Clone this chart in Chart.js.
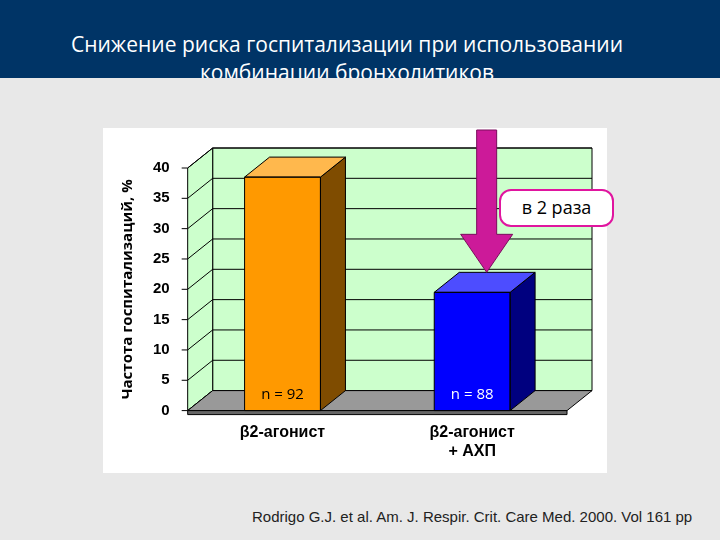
<!DOCTYPE html>
<html><head><meta charset="utf-8">
<script src="https://cdn.jsdelivr.net/npm/chart.js@4"></script>
<style>
body{margin:0;width:720px;height:540px;background:#e8e8e8;position:relative;overflow:hidden;font-family:"Liberation Sans",Arial,sans-serif}
#hdr{position:absolute;left:0;top:0;width:720px;height:78px;background:#003466;overflow:hidden}
#hdr div{position:absolute;left:0;top:30px;width:694px;text-align:center;color:#fff;font-family:"Open Sans",sans-serif;font-size:21px;line-height:28px}
#box{position:absolute;left:103px;top:128px;width:504px;height:345px;background:#fff}
#call{position:absolute;left:499px;top:189px;width:115px;height:38px;border:2px solid #e0159f;border-radius:12px;background:#fff;box-sizing:border-box;text-align:center;line-height:33px;font-family:"Open Sans",sans-serif;font-size:18px}
#cite{position:absolute;left:252px;top:508px;white-space:nowrap;font-size:15px;color:#222}
</style></head><body>
<div id="hdr"><div>Снижение риска госпитализации при использовании<br>комбинации бронхолитиков</div></div>
<div id="box"><canvas id="c" width="504" height="345"></canvas></div>
<div id="call">в 2 раза</div>
<div id="cite">Rodrigo G.J. et al. Am. J. Respir. Crit. Care Med. 2000. Vol 161 pp</div>
<script>
const categories=[["β2-агонист"],["β2-агонист","+ АХП"]];
const values=[38.5,19.5];
const nLabels=["n = 92","n = 88"];
const yTicks=[0,5,10,15,20,25,30,35,40];
const faceColors=["#ff9900","#0000ff"];
const sideColors=["#7f4c00","#00007f"];
const topColors=["#ffb84d","#4d4dff"];
const DX=25,DY=-20;
function poly(ctx,pts,fill,stroke){ctx.beginPath();ctx.moveTo(pts[0][0],pts[0][1]);for(const p of pts.slice(1))ctx.lineTo(p[0],p[1]);ctx.closePath();if(fill){ctx.fillStyle=fill;ctx.fill();}if(stroke){ctx.strokeStyle=stroke;ctx.lineWidth=1;ctx.stroke();}}
const p3d={id:'p3d',
beforeDatasetsDraw(ch){const ctx=ch.ctx,a=ch.chartArea,y=ch.scales.y;const z=y.getPixelForValue(0),t=y.getPixelForValue(40);
ctx.save();
poly(ctx,[[a.left+DX,t+DY],[a.right+DX,t+DY],[a.right+DX,z+DY],[a.left+DX,z+DY]],"#ccffcc","#000");
poly(ctx,[[a.left,t],[a.left+DX,t+DY],[a.left+DX,z+DY],[a.left,z]],"#ccffcc","#000");
ctx.strokeStyle="#000";ctx.lineWidth=1;
for(const v of yTicks){const py=y.getPixelForValue(v);ctx.beginPath();ctx.moveTo(a.left-6,py);ctx.lineTo(a.left,py);ctx.lineTo(a.left+DX,py+DY);ctx.lineTo(a.right+DX,py+DY);ctx.stroke();}
poly(ctx,[[a.left,z],[a.right,z],[a.right+DX,z+DY],[a.left+DX,z+DY]],"#999999","#000");
poly(ctx,[[a.left,z],[a.right,z],[a.right,z+4],[a.left,z+4]],"#666","#000");
ctx.restore();},
afterDatasetsDraw(ch){const ctx=ch.ctx,m=ch.getDatasetMeta(0);ctx.save();
m.data.forEach((b,i)=>{const l=b.x-b.width/2,r=b.x+b.width/2,tp=b.y,bt=b.base;
poly(ctx,[[r,tp],[r+DX,tp+DY],[r+DX,bt+DY],[r,bt]],sideColors[i],"#000");
poly(ctx,[[l,tp],[l+DX,tp+DY],[r+DX,tp+DY],[r,tp]],topColors[i],"#000");
poly(ctx,[[l,tp],[r,tp],[r,bt],[l,bt]],null,"#000");
ctx.fillStyle=i==0?"#000":"#fff";ctx.font='15px "Open Sans"';ctx.textAlign="center";ctx.fillText(nLabels[i],b.x,bt-12);});
const b=m.data[1];const ax=b.x+DX/2+2;const ty=b.y+DY;
poly(ctx,[[ax-10,2],[ax+10,2],[ax+10,ty-38],[ax+26,ty-38],[ax,ty],[ax-26,ty-38],[ax-10,ty-38]],"#cc1a99","#7a0d5c");
ctx.restore();}};
new Chart(document.getElementById('c'),{type:'bar',
data:{labels:categories,datasets:[{data:values,backgroundColor:faceColors,borderWidth:0,barPercentage:0.4,categoryPercentage:1}]},
options:{responsive:false,animation:false,layout:{padding:{top:40,right:40,left:12,bottom:8}},
plugins:{legend:{display:false},tooltip:{enabled:false}},
scales:{y:{min:0,max:40,afterBuildTicks:s=>{s.ticks=yTicks.map(v=>({value:v}))},grid:{display:false},border:{display:false},
ticks:{color:"#000",font:{family:"Liberation Sans",size:15,weight:"bold"},padding:10},
title:{display:true,text:"Частота госпитализаций, %",color:"#000",font:{family:"Open Sans",size:15,weight:"bold"},padding:{bottom:6}}},
x:{grid:{display:false},border:{display:false},ticks:{color:"#000",font:{family:"Liberation Sans",size:16,weight:"bold"},padding:4}}}},
plugins:[p3d]});
</script></body></html>
